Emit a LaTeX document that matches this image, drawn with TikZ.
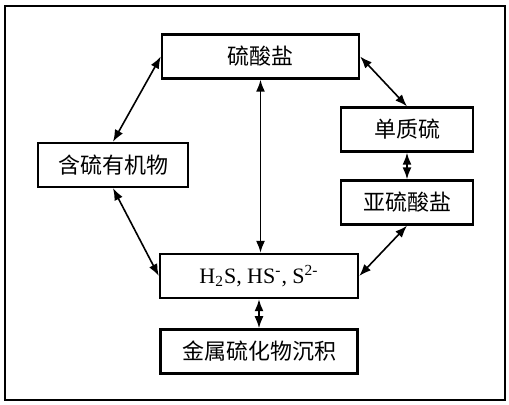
\documentclass[tikz,border=0pt]{standalone}
\usepackage{fontspec}
\setmainfont{Liberation Serif}
\newfontfamily\cjk{Noto Sans CJK SC}
\usepackage{tikz}
\usetikzlibrary{arrows.meta,positioning}
\tikzset{
  box/.style   = {rectangle, draw=black, line width=1.2pt, fill=white,
                  minimum height=22pt, align=center,
                  font=\cjk\fontsize{11}{12}\selectfont},
  arr/.style   = {{Latex[length=6pt,width=4.5pt]}-{Latex[length=6pt,width=4.5pt]},
                  line width=0.8pt, draw=black}
}
\begin{document}
\begin{tikzpicture}[x=0.5pt, y=-0.5pt, node distance=14.5pt]
  \useasboundingbox (0,0) rectangle (509,404);
  \draw[line width=1.1pt] (5,6) rectangle (505,400);
  \node[box, minimum width=98.5pt] (sulfate) at (260.5,56.5) {硫酸盐};
  \node[box, minimum width=66pt]   (sulfur)  at (407,129.5) {单质硫};
  \node[box, minimum width=66pt]   (sulfite) at (407,202.5) {亚硫酸盐};
  \node[box, minimum width=75pt]   (organic) at (113,165)   {含硫有机物};
  \node[box, minimum width=99pt, font=\fontsize{11}{12}\selectfont] (sulfide) at (259,276)
    {H\textsubscript{2}S, HS\textsuperscript{-}, S\textsuperscript{2-}};
  \node[box, minimum width=98.5pt, below=of sulfide] (metal) {金属硫化物沉积};
  % connectors
  \draw[arr] (sulfate.west) -- (organic.north);
  \draw[arr] (sulfate.east) -- (sulfur.north);
  \draw[arr] (sulfate.south) -- (sulfate.south |- sulfide.north);
  \draw[arr] (organic.south) -- (sulfide.west);
  \draw[arr] (sulfite.south) -- (sulfide.east);
  \foreach \a/\b in {sulfur/sulfite,sulfide/metal}
    \draw[arr] (\a.south) -- (\b.north);
\end{tikzpicture}
\end{document}
